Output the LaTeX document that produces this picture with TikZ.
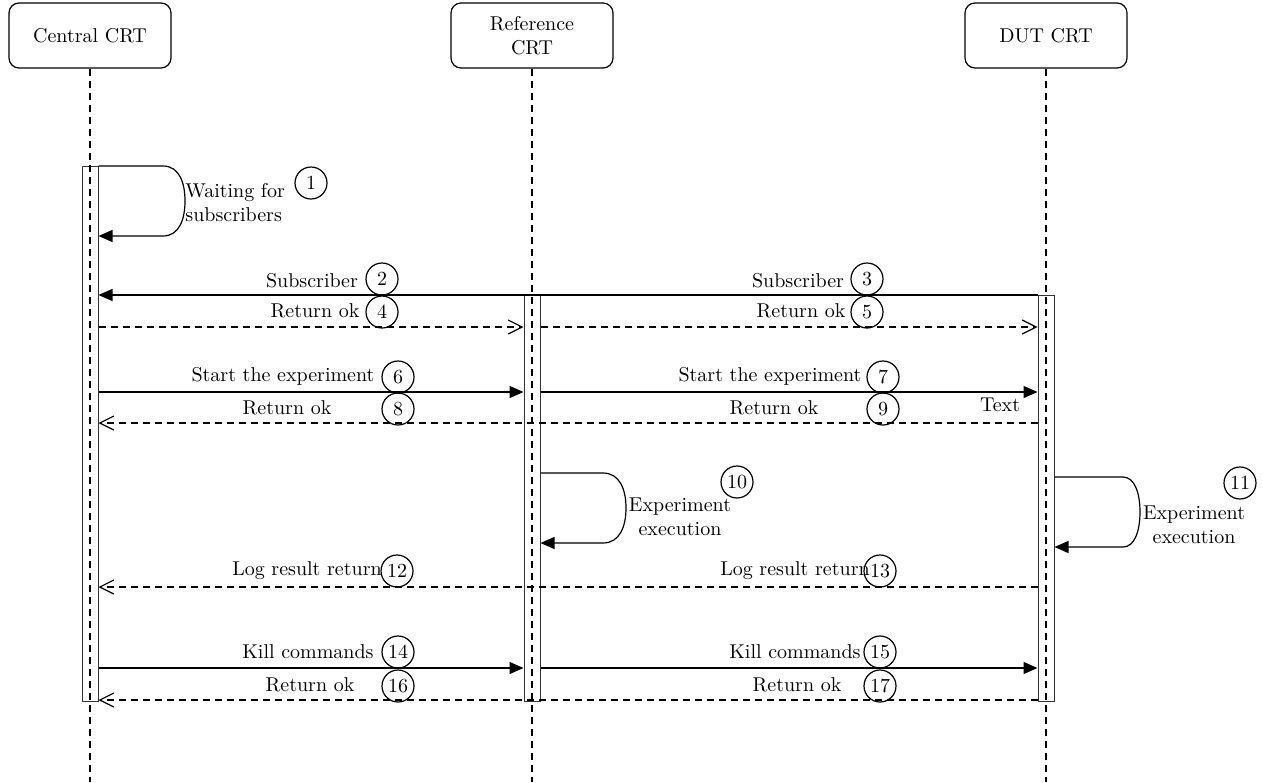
\documentclass[tikz,border=0pt]{standalone}
\usetikzlibrary{arrows.meta}
\begin{document}
\begin{tikzpicture}[x=0.5pt, y=-0.5pt,
  head/.style={draw, line width=0.6pt, rounded corners=5pt, minimum width=81pt, minimum height=32.5pt, align=center, inner sep=2pt},
  lifeline/.style={line width=0.9pt, dash pattern=on 3.5pt off 2.5pt},
  actbar/.style={draw=black!80, line width=0.5pt, minimum width=8pt, inner sep=0pt},
  call/.style={line width=0.6pt, -{Triangle[length=7pt, width=6pt]}},
  reply/.style={line width=0.6pt, dash pattern=on 3.5pt off 2.5pt, -{Straight Barb[length=7pt, width=7pt]}},
  plainline/.style={line width=0.6pt},
  lbl/.style={inner sep=0pt},
  num/.style={draw, circle, line width=0.6pt, minimum size=16pt, inner sep=0pt}]

% Set the canvas (reference pixels)
\useasboundingbox (0,0) rectangle (1263,782);

% Draw the participants
\node[head] (central) at (90,35.5) {Central CRT};
\node[head] (reference) at (532,35.5) {Reference\\CRT};
\node[head] (dut) at (1046,35.5) {DUT CRT};

% Draw the activation bars
\node[actbar, minimum height=267.5pt] (cbar) at (90,433.5) {};
\node[actbar, minimum height=203pt] (rbar) at (532,498) {};
\node[actbar, minimum height=203pt] (dbar) at (1046,498) {};

% Draw the lifelines
\draw[lifeline] (central.south) -- (central.south |- 0,782);
\draw[lifeline] (reference.south) -- (reference.south |- 0,782);
\draw[lifeline] (dut.south) -- (dut.south |- 0,782);

% Message rows
\coordinate (row2) at (0,295);
\coordinate (row4) at (0,327);
\coordinate (row6) at (0,392);
\coordinate (row8) at (0,423);
\coordinate (row12) at (0,587);
\coordinate (row14) at (0,668);
\coordinate (row16) at (0,700);

% Waiting for subscribers
\draw[call] (cbar.east |- 0,166) -- (163,166) .. controls (180,166) and (185,184) .. (185,201) .. controls (185,218) and (180,236) .. (163,236) -- (cbar.east |- 0,236);
\node[lbl, align=left, anchor=west] (wait) at (185,203) {Waiting for\\subscribers};
\node[num] (n1) at (311,183) {1};

% Subscribers
\draw[call] (rbar.west |- row2) -- (cbar.east |- row2);
\draw[plainline] (dbar.west |- row2) -- (rbar.west |- row2);
\node[lbl] (sub2) at (312,281) {Subscriber};
\node[num] (n2) at (382,279) {2};
\node[lbl] (sub3) at (798,281) {Subscriber};
\node[num] (n3) at (867,279) {3};

% Return ok
\draw[reply] (cbar.east |- row4) -- (rbar.west |- row4);
\draw[reply] (rbar.east |- row4) -- (dbar.west |- row4);
\node[lbl] (ok4) at (315,311) {Return ok};
\node[num] (n4) at (382,312) {4};
\node[lbl] (ok5) at (801,311) {Return ok};
\node[num] (n5) at (867,312) {5};

% Start the experiment
\draw[call] (cbar.east |- row6) -- (rbar.west |- row6);
\draw[call] (rbar.east |- row6) -- (dbar.west |- row6);
\node[lbl] (start6) at (283,376) {Start the experiment};
\node[num] (n6) at (398,377) {6};
\node[lbl] (start7) at (770,376) {Start the experiment};
\node[num] (n7) at (883,377) {7};
\node[lbl] (txt) at (1000,405) {Text};

% Return ok
\draw[reply] (dbar.west |- row8) -- (cbar.east |- row8);
\node[lbl] (ok8) at (287,408) {Return ok};
\node[num] (n8) at (398,409) {8};
\node[lbl] (ok9) at (774,408) {Return ok};
\node[num] (n9) at (883,409) {9};

% Experiment execution
\draw[call] (rbar.east |- 0,473) -- (603,473) .. controls (620,473) and (626,490) .. (626,508) .. controls (626,526) and (620,543) .. (603,543) -- (rbar.east |- 0,543);
\node[lbl, align=center] (exec10) at (680,517) {Experiment\\execution};
\node[num] (n10) at (737,482) {10};
\draw[call] (dbar.east |- 0,477) -- (1123,477) .. controls (1135,477) and (1140,494) .. (1140,512) .. controls (1140,530) and (1135,547) .. (1123,547) -- (dbar.east |- 0,547);
\node[lbl, align=center] (exec11) at (1194,525) {Experiment\\execution};
\node[num] (n11) at (1240,483) {11};

% Log result return
\draw[reply] (dbar.west |- row12) -- (cbar.east |- row12);
\node[lbl] (log12) at (307,571) {Log result return};
\node[num] (n12) at (397,571) {12};
\node[lbl] (log13) at (795,571) {Log result return};
\node[num] (n13) at (880,571) {13};

% Kill commands
\draw[call] (cbar.east |- row14) -- (rbar.west |- row14);
\draw[call] (rbar.east |- row14) -- (dbar.west |- row14);
\node[lbl] (kill14) at (308,652) {Kill commands};
\node[num] (n14) at (398,652) {14};
\node[lbl] (kill15) at (795,652) {Kill commands};
\node[num] (n15) at (880,652) {15};

% Return ok
\draw[reply] (dbar.west |- row16) -- (cbar.east |- row16);
\node[lbl] (ok16) at (310,685) {Return ok};
\node[num] (n16) at (398,686) {16};
\node[lbl] (ok17) at (797,685) {Return ok};
\node[num] (n17) at (880,686) {17};
\end{tikzpicture}
\end{document}
